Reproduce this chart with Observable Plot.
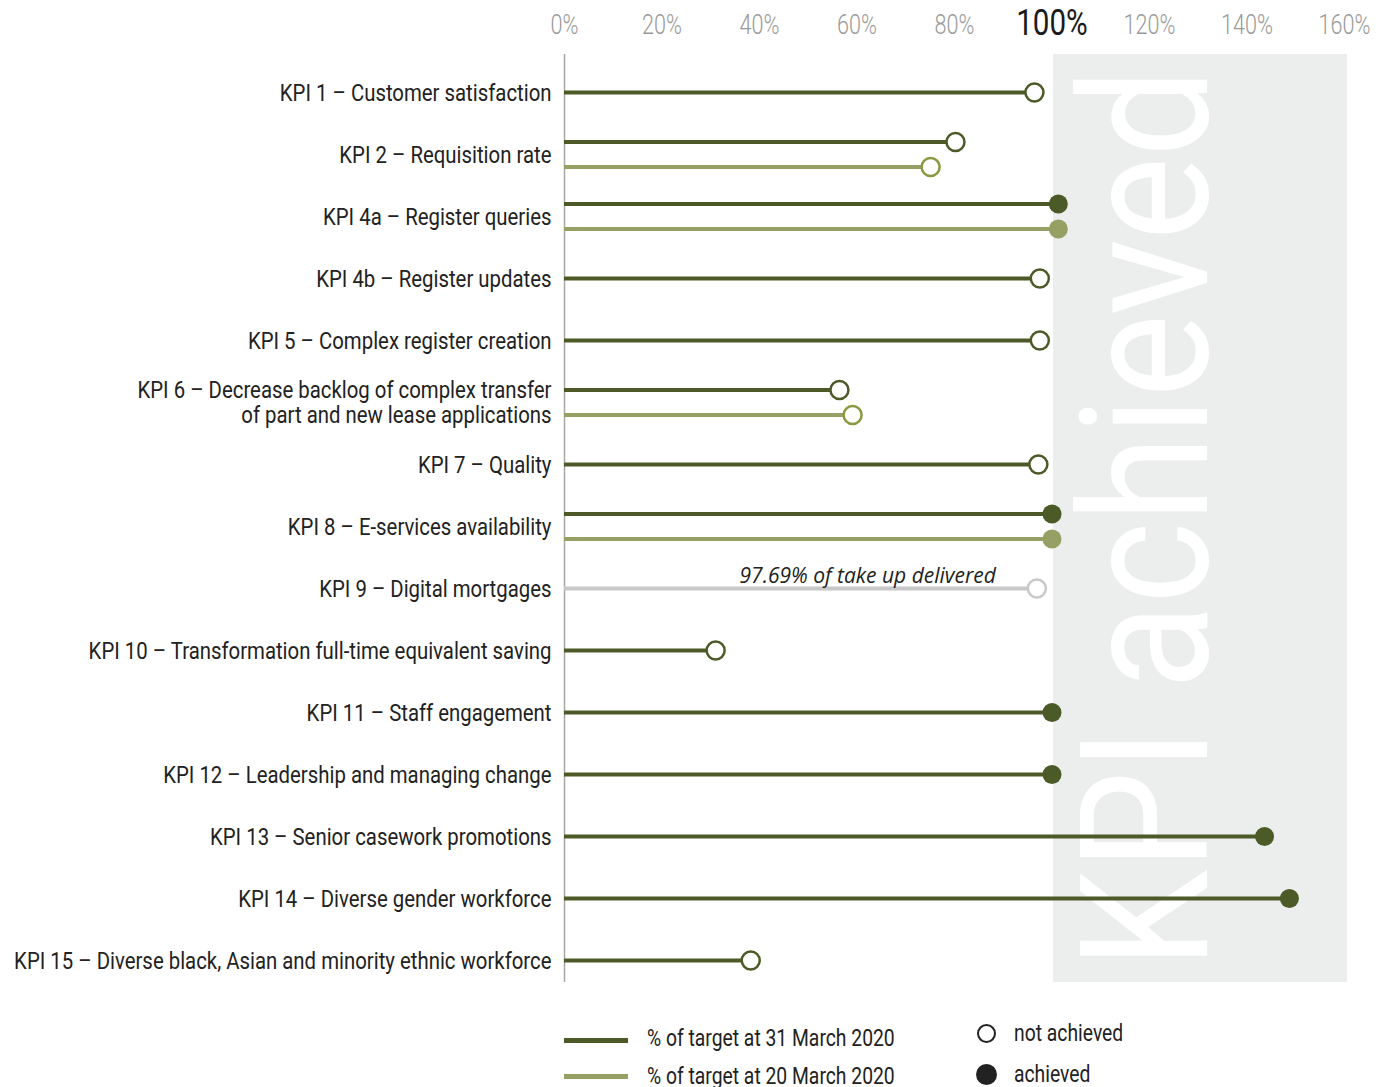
<!DOCTYPE html>
<html>
<head>
<meta charset="utf-8">
<script src="https://cdn.jsdelivr.net/npm/d3@7"></script>
<script src="https://cdn.jsdelivr.net/npm/@observablehq/plot@0.6"></script>
<style>
  html, body { margin: 0; padding: 0; background: #fff; }
  body { width: 1384px; overflow: hidden; font-family: Roboto, sans-serif; }
  #chart svg { display: block; }
  #legend { position: relative; height: 90px; color: #222; font-size: 23px; }
  #legend .sw { position: absolute; left: 564px; width: 64px; height: 5px; }
  #legend .lab { position: absolute; white-space: nowrap; line-height: 1; transform: scaleX(0.84); transform-origin: left center; }
  #legend .dot { position: absolute; width: 19px; height: 19px; border-radius: 50%; box-sizing: border-box; }
</style>
</head>
<body>
<div id="chart"></div>
<div id="legend">
  <div class="sw" style="top:38px;background:#4b5a27"></div>
  <div class="lab" style="left:647px;top:27px">% of target at 31 March 2020</div>
  <div class="sw" style="top:74px;background:#97a064"></div>
  <div class="lab" style="left:647px;top:65px">% of target at 20 March 2020</div>
  <div class="dot" style="left:977px;top:24px;border:2.5px solid #222;background:#fff"></div>
  <div class="lab" style="left:1014px;top:22px">not achieved</div>
  <div class="dot" style="left:976px;top:64px;width:21px;height:21px;background:#222"></div>
  <div class="lab" style="left:1014px;top:63px">achieved</div>
</div>
<script>
// ---- data ----
const kpis = [
  "KPI 1 – Customer satisfaction",
  "KPI 2 – Requisition rate",
  "KPI 4a – Register queries",
  "KPI 4b – Register updates",
  "KPI 5 – Complex register creation",
  "KPI 6 – Decrease backlog of complex transfer\nof part and new lease applications",
  "KPI 7 – Quality",
  "KPI 8 – E-services availability",
  "KPI 9 – Digital mortgages",
  "KPI 10 – Transformation full-time equivalent saving",
  "KPI 11 – Staff engagement",
  "KPI 12 – Leadership and managing change",
  "KPI 13 – Senior casework promotions",
  "KPI 14 – Diverse gender workforce",
  "KPI 15 – Diverse black, Asian and minority ethnic workforce"
];
// % of target at 31 March 2020
const target31 = [96.4, 80.2, 101.3, 97.5, 97.5, 56.4, 97.2, 100, 96.9, 31, 100, 100, 143.6, 148.7, 38.2];
// % of target at 20 March 2020 (only some KPIs)
const target20 = [null, 75.1, 101.3, null, null, 59.1, null, 100, null, null, null, null, null, null, null];
// status: "achieved", "not" (not achieved), "info" (reported differently)
const status31 = ["not", "not", "achieved", "not", "not", "not", "not", "achieved", "info", "not", "achieved", "achieved", "achieved", "achieved", "not"];
const status20 = [null, "not", "achieved", null, null, "not", null, "achieved", null, null, null, null, null, null, null];
const seriesNames = ["31 March 2020", "20 March 2020"];
const xTicks = [0, 20, 40, 60, 80, 100, 120, 140, 160];
const notes = [{kpi: kpis[8], value: target31[8], text: "97.69% of take up delivered"}];
const bandLabel = "KPI achieved";

// ---- build table ----
const rows = [];
kpis.forEach((k, i) => {
  const both = target20[i] != null;
  rows.push({kpi: k, series: seriesNames[0], value: target31[i], status: status31[i], slot: both ? "upper" : "single"});
  if (both) rows.push({kpi: k, series: seriesNames[1], value: target20[i], status: status20[i], slot: "lower"});
});

const DARK = "#4b5a27", LIGHT = "#97a064", LIGHT_RING = "#88993f", GREY = "#c8c8c8";
const lineColor = d => d.status === "info" ? GREY : (d.series === seriesNames[0] ? DARK : LIGHT);
const ringColor = d => d.status === "info" ? GREY : (d.series === seriesNames[0] ? DARK : LIGHT_RING);

const slots = {single: 0, upper: -12.5, lower: 12.5};
const seriesMarks = Object.entries(slots).flatMap(([slot, dy]) => {
  const data = rows.filter(d => d.slot === slot);
  return [
    Plot.ruleY(data, {y: "kpi", x1: 0, x2: "value", dy, stroke: lineColor, strokeWidth: 4}),
    Plot.dot(data.filter(d => d.status !== "achieved"), {y: "kpi", x: "value", dy, r: 9, fill: "#fff",
      stroke: ringColor, strokeWidth: 2.5}),
    Plot.dot(data.filter(d => d.status === "achieved"), {y: "kpi", x: "value", dy, r: 9.5, fill: lineColor})
  ];
});

const chart = Plot.plot({
  width: 1384,
  height: 1000,
  marginLeft: 564,
  marginRight: 40,
  marginTop: 54,
  marginBottom: 18,
  style: {fontFamily: "Roboto, sans-serif", background: "#fff"},
  x: {domain: [0, 160], axis: null},
  y: {type: "point", domain: kpis, axis: null, padding: 0, insetTop: 31.8, insetBottom: 16.8},
  marks: [
    Plot.rect([bandLabel], {x1: 100.3, x2: 160.6, fill: "#eceeed"}),
    Plot.text([bandLabel], {x: 120.2, frameAnchor: "middle", text: d => d, rotate: -90,
      fill: "#fff", fontSize: 178, fontFamily: "Roboto", fontWeight: 400}),
    Plot.ruleX([0], {stroke: "#a8a8a8", strokeWidth: 1.5}),
    // x tick labels on top
    Plot.text(xTicks.filter(t => t !== 100), {x: d => d, frameAnchor: "top", dy: -40, text: d => d + "%",
      fill: "#9a9a9a", fontSize: 27, fontWeight: 300}),
    Plot.text(xTicks.filter(t => t === 100), {x: d => d, frameAnchor: "top", dy: -46, text: d => d + "%",
      fill: "#1a1a1a", fontSize: 37, fontWeight: 400}),
    // KPI labels
    Plot.text(kpis, {x: 0, y: d => d, text: d => d, textAnchor: "end", dx: -13, fill: "#222",
      fontSize: 23, lineHeight: 1.09}),
    ...seriesMarks,
    Plot.text(notes, {x: "value", y: "kpi", text: "text", textAnchor: "end", dx: -41, dy: -12,
      fontFamily: "Open Sans", fontStyle: "italic", fontSize: 21, fill: "#222"})
  ]
});

document.getElementById("chart").append(chart);

// condensed look: squeeze glyphs horizontally
function squeeze(el, k) {
  const parts = el.querySelectorAll("tspan");
  (parts.length ? Array.from(parts) : [el]).forEach(t => {
    const len = t.getComputedTextLength();
    t.setAttribute("textLength", (len * k).toFixed(1));
    t.setAttribute("lengthAdjust", "spacingAndGlyphs");
  });
}
d3.select(chart).selectAll("text").each(function() {
  const s = this.textContent;
  if (s === bandLabel) { this.setAttribute("textLength", 900); this.setAttribute("lengthAdjust", "spacingAndGlyphs"); }
  else if (s.includes("take up")) { /* keep as is */ }
  else if (s.endsWith("%")) squeeze(this, 0.8);
  else squeeze(this, 0.885);
});
</script>
</body>
</html>
